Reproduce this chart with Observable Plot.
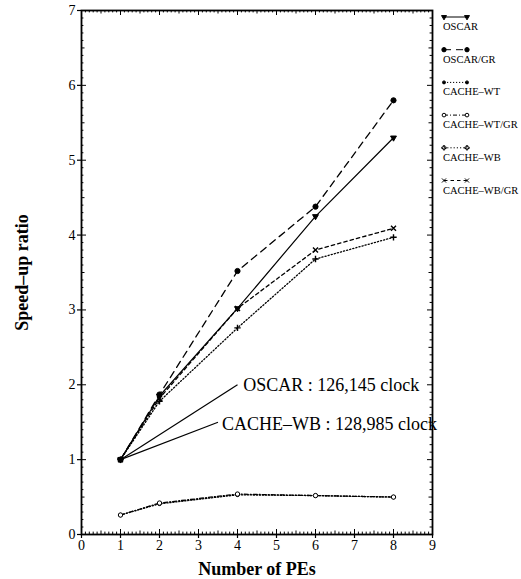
<!DOCTYPE html>
<html>
<head>
<meta charset="utf-8">
<script src="https://cdn.jsdelivr.net/npm/d3@7"></script>
<script src="https://cdn.jsdelivr.net/npm/@observablehq/plot@0.6"></script>
<style>
  html, body { margin: 0; padding: 0; background: white; }
  #chart { width: 521px; height: 579px; }
</style>
</head>
<body>
<div id="chart"></div>
<script>
// ---- data ----
const pes = [1, 2, 4, 6, 8];
const oscar     = [1.00, 1.85, 3.02, 4.25, 5.30];
const oscarGR   = [1.00, 1.87, 3.52, 4.38, 5.80];
const cacheWT   = [0.26, 0.41, 0.53, 0.52, 0.50];
const cacheWTGR = [0.26, 0.42, 0.54, 0.52, 0.50];
const cacheWB   = [1.00, 1.78, 2.76, 3.68, 3.97];
const cacheWBGR = [1.00, 1.82, 3.02, 3.80, 4.09];
const seriesNames = ["OSCAR", "OSCAR/GR", "CACHE-WT", "CACHE-WT/GR", "CACHE-WB", "CACHE-WB/GR"];
const xTickLabels = [0, 1, 2, 3, 4, 5, 6, 7, 8, 9];
const yTickLabels = [0, 1, 2, 3, 4, 5, 6, 7];
const annotations = [
  {label: "OSCAR : 126,145 clock",         x1: 1, y1: 1, x2: 4.0, y2: 2.0, tx: 4.15, ty: 2.0},
  {label: "CACHE\u2013WB : 128,985 clock", x1: 1, y1: 1, x2: 3.5, y2: 1.5, tx: 3.6,  ty: 1.47}
];

// ---- layout / styles ----
const W = 521, H = 579, mL = 81, mR = 89, mT = 10, mB = 45;
const xDomain = [0, 9], yDomain = [0, 7];
const pxPerX = (W - mL - mR) / (xDomain[1] - xDomain[0]);
const pxPerY = (H - mT - mB) / (yDomain[1] - yDomain[0]);

const values = [oscar, oscarGR, cacheWT, cacheWTGR, cacheWB, cacheWBGR];
const styles = [
  {dash: null,      symbol: "triangle", rotate: 180, r: 2.2, fill: "black"},
  {dash: "7,5",     symbol: "circle",   rotate: 0,   r: 2.6, fill: "black"},
  {dash: "1.2,1.8", symbol: "circle",   rotate: 0,   r: 1.8, fill: "black"},
  {dash: "4,2,1,2", symbol: "circle",   rotate: 0,   r: 2.2, fill: "white"},
  {dash: "1.2,2",   symbol: "plus",     rotate: 0,   r: 2.2, fill: "black"},
  {dash: "3.5,3",   symbol: "times",    rotate: 0,   r: 2.4, fill: "black"}
];
const series = seriesNames.map((name, i) => ({
  name, ...styles[i],
  rows: pes.map((x, j) => ({x, y: values[i][j], name}))
}));

const font = "Liberation Serif, Times New Roman, serif";
// tick positions at 0.1 steps with length class
const xTicksAll = d3.range(0, 91).map(d => ({v: d / 10, len: d % 10 === 0 ? 5 : d % 5 === 0 ? 3.5 : 2.4}));
const yTicksAll = d3.range(0, 71).map(d => ({v: d / 10, len: d % 10 === 0 ? 5 : d % 5 === 0 ? 3.5 : 2.4}));

const tickStyle = {stroke: "black", strokeWidth: 1};
const marks = [
  // inward ticks on all four sides
  Plot.ruleX(xTicksAll, {x: "v", y1: yDomain[0], y2: d => yDomain[0] + d.len / pxPerY, ...tickStyle}),
  Plot.ruleX(xTicksAll, {x: "v", y1: yDomain[1], y2: d => yDomain[1] - d.len / pxPerY, ...tickStyle}),
  Plot.ruleY(yTicksAll, {y: "v", x1: xDomain[0], x2: d => xDomain[0] + d.len / pxPerX, ...tickStyle}),
  Plot.ruleY(yTicksAll, {y: "v", x1: xDomain[1], x2: d => xDomain[1] - d.len / pxPerX, ...tickStyle}),
  Plot.frame({stroke: "black", strokeWidth: 1.8}),
  Plot.axisX({anchor: "bottom", ticks: xTickLabels, tickSize: 4, tickPadding: 2, fontSize: 14, fill: "black", stroke: "black", strokeWidth: 1.2, tickFormat: d => String(d)}),
  Plot.axisY({anchor: "left", ticks: yTickLabels, tickSize: 4, tickPadding: 2, fontSize: 14, fill: "black", stroke: "black", strokeWidth: 1.2, tickFormat: d => String(d)}),
  Plot.text(["Number of PEs"], {frameAnchor: "bottom", dy: 35, textAnchor: "middle", lineAnchor: "middle", fontSize: 18, fontWeight: "bold", fill: "black"}),
  Plot.text(["Speed\u2013up ratio"], {frameAnchor: "left", dx: -59, rotate: -90, textAnchor: "middle", lineAnchor: "middle", fontSize: 18, fontWeight: "bold", fill: "black"}),
  Plot.link(annotations, {x1: "x1", y1: "y1", x2: "x2", y2: "y2", stroke: "black", strokeWidth: 1.2}),
  Plot.text(annotations, {x: "tx", y: "ty", text: "label", textAnchor: "start", fontSize: 18, fill: "black"})
];
for (const s of series) {
  marks.push(Plot.line(s.rows, {x: "x", y: "y", stroke: "black", strokeWidth: s.dash ? 1.3 : 1.2, strokeDasharray: s.dash}));
}
for (const s of series) {
  marks.push(Plot.dot(s.rows, {x: "x", y: "y", symbol: s.symbol, rotate: s.rotate, r: s.r, fill: s.fill === "white" ? "white" : "black", stroke: "black", strokeWidth: s.symbol === "times" || s.symbol === "plus" ? 1.4 : 1}));
}

const chart = Plot.plot({
  width: W, height: H,
  marginLeft: mL, marginRight: mR, marginTop: mT, marginBottom: mB,
  x: {domain: xDomain, label: null},
  y: {domain: yDomain, label: null},
  style: {fontFamily: font, background: "white", color: "black", overflow: "visible"},
  marks
});

// ---- legend (drawn into the same svg) ----
const svg = d3.select(chart);
const symbolMap = {triangle: d3.symbolTriangle, circle: d3.symbolCircle, plus: d3.symbolCross, times: d3.symbolX};
const lg = svg.append("g").attr("font-family", font).attr("text-anchor", "start");
series.forEach((s, i) => {
  const yLine = 17 + i * 32.7;
  const g = lg.append("g");
  g.append("line").attr("x1", 444).attr("x2", 467).attr("y1", yLine).attr("y2", yLine)
    .attr("stroke", "black").attr("stroke-width", 1).attr("stroke-dasharray", s.dash);
  [444, 467].forEach(xx => {
    g.append("path")
      .attr("d", d3.symbol(symbolMap[s.symbol], Math.PI * s.r * s.r * 0.7)())
      .attr("transform", `translate(${xx},${yLine}) rotate(${s.rotate})`)
      .attr("fill", s.fill === "white" ? "white" : (s.symbol === "times" || s.symbol === "plus" ? "none" : "black"))
      .attr("stroke", "black").attr("stroke-width", 1);
  });
  g.append("text").attr("x", 443).attr("y", yLine + 13).attr("font-size", 10.5).attr("fill", "black")
    .attr("text-anchor", "start")
    .text(s.name.replace("-", "\u2013"));
});

document.getElementById("chart").appendChild(chart);
</script>
</body>
</html>
